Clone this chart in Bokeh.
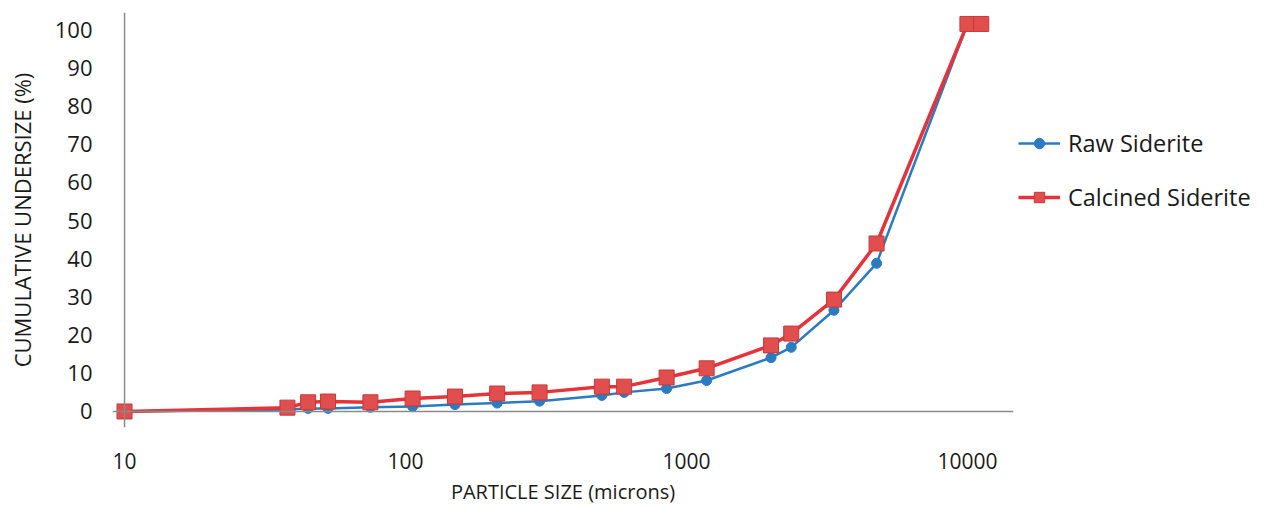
from bokeh.plotting import figure
from bokeh.models import (Range1d, FixedTicker, NumeralTickFormatter, Span, Legend, LegendItem)
from bokeh.embed import file_html
from bokeh.resources import INLINE

# ---- data ----
particle_size = [10, 38, 45, 53, 75, 106, 150, 212, 300, 500, 600, 850, 1180, 2000, 2360, 3350, 4750, 10000, 11200]
raw_siderite = [0, 0.5, 0.8, 0.8, 1.1, 1.3, 1.8, 2.2, 2.7, 4.2, 5.0, 6.0, 8.1, 14.1, 16.8, 26.5, 38.8, 101.5, 101.5]
calcined_siderite = [0, 1.0, 2.4, 2.6, 2.4, 3.4, 3.9, 4.7, 5.0, 6.5, 6.5, 8.9, 11.3, 17.3, 20.4, 29.3, 44.0, 101.5, 101.5]
y_ticks = [0, 10, 20, 30, 40, 50, 60, 70, 80, 90, 100]
x_ticks = [10, 100, 1000, 10000]

FONT = "Open Sans"
BLUE = "#2A7BC0"
RED = "#E63339"
RED_FILL = "#E04E4E"

p = figure(width=1267, height=507, frame_width=901, frame_height=415,
           x_axis_type="log", output_backend="svg", toolbar_location=None,
           x_range=Range1d(9.06, 14590), y_range=Range1d(-4.2, 104.5),
           min_border_left=112, min_border_top=12, min_border_right=254, min_border_bottom=80)
p.outline_line_color = None
p.grid.visible = False
p.background_fill_color = "white"
p.border_fill_color = "white"

# axes lines drawn at the data origin
p.add_layout(Span(location=0, dimension="width", line_color="#8a8a8a", line_width=1.5))
p.add_layout(Span(location=10, dimension="height", line_color="#8a8a8a", line_width=1.5))

# y axis
p.yaxis.ticker = FixedTicker(ticks=y_ticks)
p.yaxis.axis_line_color = None
p.yaxis.major_tick_line_color = None
p.yaxis.minor_tick_line_color = None
p.yaxis.major_label_standoff = 14
p.yaxis.major_label_text_font = FONT
p.yaxis.major_label_text_font_size = "22px"
p.yaxis.major_label_text_color = "#1a1a1a"
p.yaxis.axis_label = "CUMULATIVE UNDERSIZE (%)"
p.yaxis.axis_label_text_font = FONT
p.yaxis.axis_label_text_font_size = "22px"
p.yaxis.axis_label_text_font_style = "normal"
p.yaxis.axis_label_text_color = "#1a1a1a"
p.yaxis.axis_label_standoff = 15

# x axis
p.xaxis.ticker = FixedTicker(ticks=x_ticks)
p.xaxis.formatter = NumeralTickFormatter(format="0")
p.xaxis.axis_line_color = None
p.xaxis.major_tick_line_color = None
p.xaxis.minor_tick_line_color = None
p.xaxis.major_label_standoff = 19
p.xaxis.major_label_text_font = FONT
p.xaxis.major_label_text_font_size = "21px"
p.xaxis.major_label_text_color = "#1a1a1a"
p.xaxis.axis_label = "PARTICLE SIZE (microns)"
p.xaxis.axis_label_text_font = FONT
p.xaxis.axis_label_text_font_size = "20px"
p.xaxis.axis_label_text_font_style = "normal"
p.xaxis.axis_label_text_color = "#1a1a1a"
p.xaxis.axis_label_standoff = 6

# series
bl = p.line(particle_size, raw_siderite, line_color=BLUE, line_width=2.5)
bm = p.scatter(particle_size, raw_siderite, marker="circle", size=10,
               fill_color=BLUE, line_color=BLUE)
rl = p.line(particle_size, calcined_siderite, line_color=RED, line_width=3.5)
rm = p.scatter(particle_size, calcined_siderite, marker="square", size=15,
               fill_color=RED_FILL, line_color="#C8383A", line_width=1)

legend = Legend(items=[LegendItem(label="Raw Siderite", renderers=[bl, bm]),
                       LegendItem(label="Calcined Siderite", renderers=[rl, rm])],
                location=(5, 214), orientation="vertical",
                border_line_color=None, background_fill_alpha=0,
                glyph_width=42, glyph_height=26, label_height=26,
                label_standoff=8, spacing=22, padding=0, margin=0,
                label_text_font=FONT, label_text_font_size="23.5px",
                label_text_color="#1a1a1a")
p.add_layout(legend, "right")

open("out.html", "w").write(file_html(p, INLINE))
